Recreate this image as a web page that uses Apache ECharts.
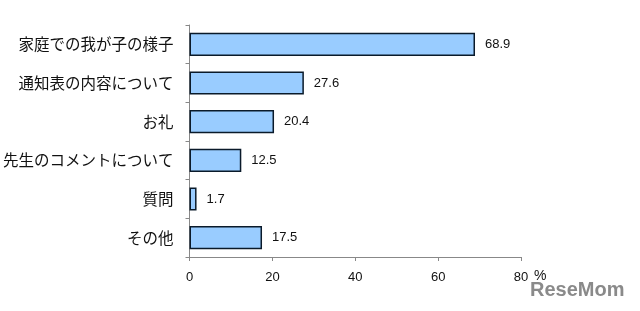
<!DOCTYPE html>
<html><head><meta charset="utf-8">
<script src="https://cdn.jsdelivr.net/npm/echarts@6/dist/echarts.min.js"></script>
<style>html,body{margin:0;padding:0;background:#fff}#c{width:640px;height:311px}</style>
</head><body><div id="c"></div>
<script>
const categories = ["家庭での我が子の様子","通知表の内容について","お礼","先生のコメントについて","質問","その他"];
const values = [68.9, 27.6, 20.4, 12.5, 1.7, 17.5];
const xTicks = [0, 20, 40, 60, 80];

const chart = echarts.init(document.getElementById('c'), null, {renderer:'canvas'});
chart.setOption({
  animation:false,
  backgroundColor:'#fff',
  grid:{left:188, right:119, top:25, bottom:54, containLabel:false},
  xAxis:{
    type:'value', min:0, max:80, interval:20,
    axisLine:{show:true, lineStyle:{color:'#888', width:1}},
    axisTick:{show:true, length:4, lineStyle:{color:'#888'}},
    splitLine:{show:false},
    axisLabel:{color:'#111', fontSize:13, fontFamily:'Liberation Sans, Arial, sans-serif', margin:14,
      formatter:v=> xTicks.includes(v) ? String(v) : ''}
  },
  yAxis:{
    type:'category', data:categories, inverse:true,
    axisLine:{show:true, lineStyle:{color:'#888', width:1}},
    axisTick:{show:true, length:4, lineStyle:{color:'#888'}},
    axisLabel:{color:'#111', fontSize:15.5, fontFamily:'Noto Sans CJK JP, sans-serif', margin:16}
  },
  series:[{
    type:'bar', data:values, barWidth:'60%',
    itemStyle:{color:'#99CCFF', borderColor:'#0a1a2a', borderWidth:1.5},
    label:{show:true, position:'right', distance:10, color:'#111', fontSize:13,
      fontFamily:'Liberation Sans Narrow, Liberation Sans, Arial, sans-serif',
      formatter:p=>p.value.toFixed(1)}
  }],
  graphic:[
    {type:'text', left:534, top:269, style:{text:'%', fontSize:14, fill:'#111', fontFamily:'Liberation Sans, Arial, sans-serif'}},
    {type:'text', left:530, top:280, style:{text:'ReseMom', fontSize:20, fontWeight:'bold', fill:'#8a8a8a', fontFamily:'Liberation Sans Narrow, Liberation Sans, Arial, sans-serif'}}
  ]
});
</script></body></html>
